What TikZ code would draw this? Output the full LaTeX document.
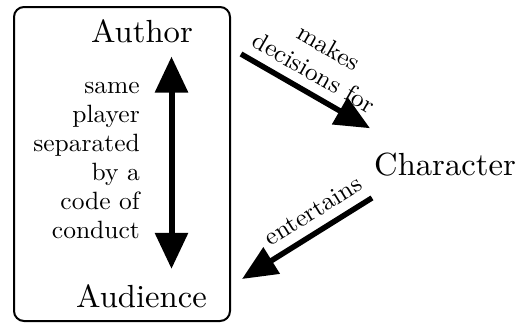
\documentclass[tikz,border=0pt]{standalone}
\usepackage{fontspec}
\setmainfont{lmroman10-regular.otf}[FakeStretch=1.02]
\usepackage{tikz}
\usetikzlibrary{arrows.meta}
\tikzset{
  role/.style={font=\fontsize{32}{38}\selectfont, inner sep=0pt},
  remark/.style={font=\fontsize{25}{29}\selectfont, inner sep=0pt},
  fat/.style={line width=5.5pt, -{Triangle[width=30pt,length=35pt]}},
  twoway/.style={line width=6pt, {Triangle[width=32pt,length=36pt]}-{Triangle[width=32pt,length=36pt]}},
}
\begin{document}
\begin{tikzpicture}[x=1pt,y=-1pt]
\useasboundingbox (0,0) rectangle (519,324);
\node[draw, line width=2pt, rounded corners=10pt, minimum width=216pt, minimum height=314pt] (player) at (122,164) {};
\node[role, anchor=base east] (author) at (193,42) {Author};
\node[role, anchor=base east] (audience) at (207,307) {Audience};
\node[role, anchor=base west] (character) at (374,175) {Character};
\node[remark, anchor=north east, align=right] (code) at (140,82) {same\\player\\separated\\by a\\code of\\conduct};

\coordinate (axis) at ([xshift=-21.5pt]author.south east);
\draw[twoway, shorten <=14pt, shorten >=15pt] (axis) -- (axis |- audience.north);

\draw[fat] ([xshift=10pt,yshift=-48pt]player.north east) -- node[remark, sloped, above=9pt, pos=0.49, align=center] {makes\\decisions for} ([xshift=-4pt,yshift=24pt]character.north west);
\draw[fat] ([xshift=-2pt,yshift=-22pt]character.south west) -- node[remark, sloped, above=9pt, pos=0.37] {entertains} ([xshift=11pt,yshift=43pt]player.south east);
\end{tikzpicture}
\end{document}
